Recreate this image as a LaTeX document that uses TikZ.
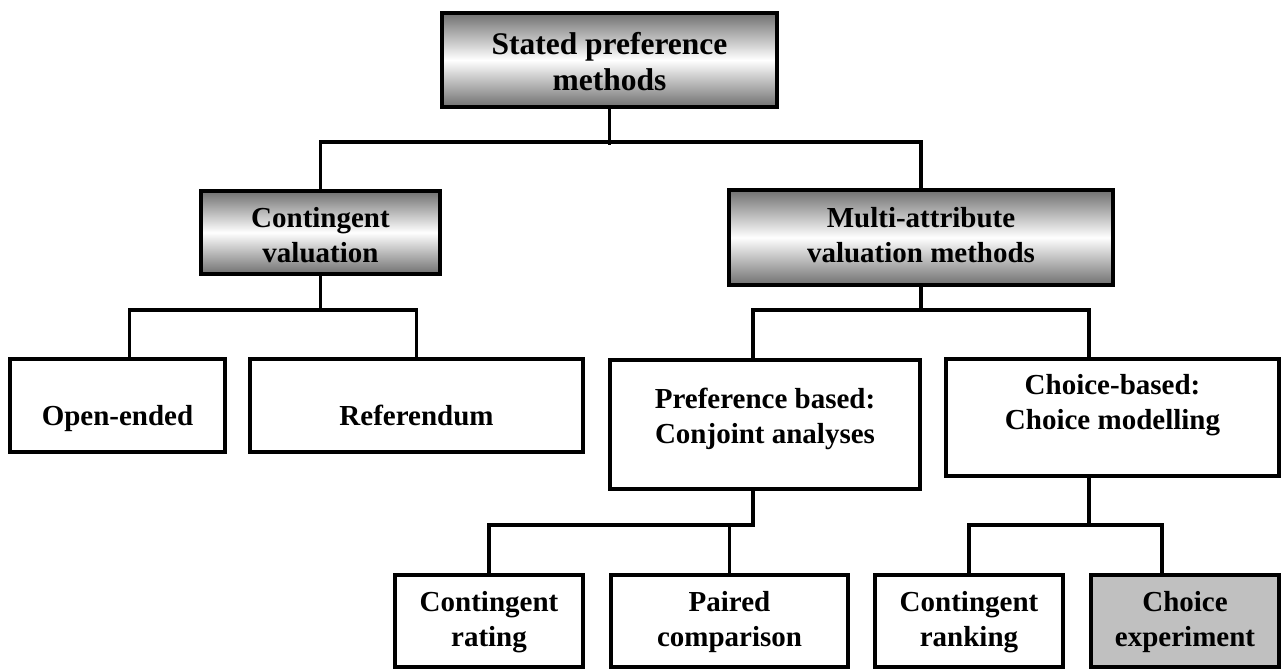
\documentclass[tikz,border=0pt]{standalone}
\usepackage{fontspec}
\setmainfont{Liberation Serif}
\definecolor{cegray}{HTML}{C0C0C0}
\definecolor{gradedge}{HTML}{707070}
\begin{document}
\begin{tikzpicture}[x=1pt,y=-1pt,
  box/.style={draw=black, line width=4pt, rectangle, inner sep=0pt, outer sep=0pt},
  gradbox/.style={box, top color=gradedge, bottom color=gradedge, middle color=white},
  lbl/.style={font=\bfseries\fontsize{29}{35}\selectfont, align=center, inner sep=0pt},
  toplbl/.style={font=\bfseries\fontsize{31.5}{36}\selectfont, align=center, inner sep=0pt},
  conn/.style={draw=black, line width=3.6pt, line join=miter}]
\useasboundingbox (0,0) rectangle (1281,669);
\fill[white] (0,0) rectangle (1281,669);

% boxes
\node[gradbox, minimum width=335pt, minimum height=94pt] (sp) at (609.5,60) {};
\node[gradbox, minimum width=239pt, minimum height=83pt] (cv) at (320.5,232.5) {};
\node[gradbox, minimum width=384pt, minimum height=95pt] (ma) at (921,237.5) {};
\node[box, minimum width=215pt, minimum height=93pt] (oe) at (117.5,405.5) {};
\node[box, minimum width=333pt, minimum height=93pt] (ref) at (416.5,405.5) {};
\node[box, minimum width=310pt, minimum height=129pt] (pb) at (765,424.5) {};
\node[box, minimum width=333pt, minimum height=117pt] (cb) at (1112.5,417.5) {};
\node[box, minimum width=188pt, minimum height=92pt] (cr) at (489,621) {};
\node[box, minimum width=237pt, minimum height=92pt] (pc) at (729.5,621) {};
\node[box, minimum width=188pt, minimum height=92pt] (crk) at (969,621) {};
\node[box, fill=cegray, minimum width=188pt, minimum height=92pt] (ce) at (1185,621) {};

% labels
\node[toplbl] (spt) at (609.5,62) {Stated preference\\methods};
\node[lbl] (cvt) at (320.5,235) {Contingent\\valuation};
\node[lbl] (mat) at (921,235) {Multi-attribute\\valuation methods};
\node[lbl, anchor=base] (oet) at (117.5,425) {Open-ended};
\node[lbl, anchor=base] (reft) at (416.5,425) {Referendum};
\node[lbl] (pbt) at (765,419) {Preference based:\\Conjoint analyses};
\node[lbl] (cbt) at (1112.5,405.5) {Choice-based:\\Choice modelling};
\node[lbl] (crt) at (489,622.5) {Contingent\\rating};
\node[lbl] (pct) at (729.5,622.5) {Paired\\comparison};
\node[lbl] (crkt) at (969,622.5) {Contingent\\ranking};
\node[lbl] (cet) at (1185,622.5) {Choice\\experiment};

% connectors
\draw[conn] (sp.south) -- ++(0,38);
\draw[conn] (cv.north) -- ++(0,-49) -| (ma.north);
\draw[conn] (cv.south) -- ++(0,36);
\draw[conn] ([xshift=12pt]oe.north) -- ++(0,-49) -| (ref.north);
\draw[conn] (ma.south) -- ++(0,25);
\draw[conn] ([xshift=-12pt]pb.north) -- ++(0,-50) -| ([xshift=-23.5pt]cb.north);
\draw[conn] ([xshift=-12pt]pb.south) -- ++(0,36) -| (cr.north);
\draw[conn] (pc.north) -- ++(0,-50);
\draw[conn] ([xshift=-23.5pt]cb.south) -- ++(0,49);
\draw[conn] (crk.north) -- ++(0,-50) -| ([xshift=-23pt]ce.north);
\end{tikzpicture}
\end{document}
